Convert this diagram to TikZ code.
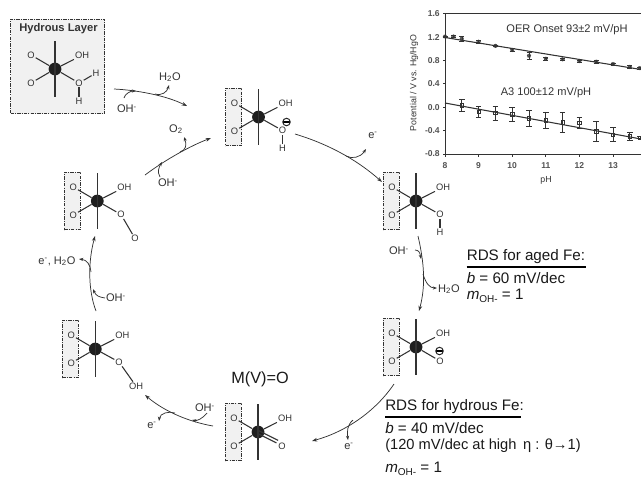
\documentclass[tikz,border=0pt]{standalone}
\usepackage{fontspec}
\setmainfont{Liberation Sans}
\usetikzlibrary{arrows.meta,calc}
\definecolor{ink}{HTML}{333333}
\definecolor{boxgray}{HTML}{F1F1F1}
\tikzset{
  oxbox/.style={draw=ink,fill=boxgray,line width=.55pt,dash pattern=on 2.6pt off .8pt on .8pt off .8pt,inner sep=0pt,minimum width=12pt,minimum height=43pt},
  hybox/.style={draw=ink,fill=boxgray,line width=.6pt,dash pattern=on 2.6pt off .8pt on .8pt off .8pt,inner sep=0pt,minimum width=70.5pt,minimum height=71pt},
  atom/.style={font=\fontsize{7}{8}\selectfont,text=ink,inner sep=.6pt},
  lab/.style={font=\fontsize{8.3}{9}\selectfont,text=ink,inner sep=0pt},
  big/.style={font=\fontsize{11.4}{12}\selectfont,text=black!90,inner sep=0pt,anchor=west},
  ball/.style={circle,fill=black!88,inner sep=0pt,minimum size=9.6pt},
  bond/.style={draw=ink,line width=.8pt},
  conn/.style={draw=ink,line width=.55pt,-{Stealth[length=4pt,width=2.8pt]}},
  branch/.style={draw=ink,line width=.55pt,-{Stealth[length=3.2pt,width=2.4pt]}},
  mcirc/.style={circle,draw=black!85,line width=.75pt,inner sep=0pt,minimum size=5.6pt,path picture={\draw[black,line width=.9pt] (path picture bounding box.west) -- (path picture bounding box.east);}},
  tick/.style={font=\fontsize{6.4}{7}\selectfont\bfseries,text=ink!85,inner sep=0pt},
  chart/.style={font=\fontsize{8.3}{9}\selectfont,text=ink,inner sep=0pt},
}
% core: ball, axial bond, two left O, one right OH
\newcommand{\femol}[3]{%
  \node[oxbox] (#1box) at (#2-25,#3) {};
  \moleculecore{#1}{#2}{#3}}
\newcommand{\moleculecore}[3]{%
  \coordinate (#1up) at (#2,#3-28);
  \coordinate (#1dn) at (#2,#3+27.5);
  \node[atom] (#1o1) at (#2-24,#3-14) {O};
  \node[atom] (#1o2) at (#2-24,#3+14) {O};
  \node[atom] (#1oh) at (#2+27,#3-14) {OH};
  \node[ball] (#1c) at (#2,#3) {};
  \draw[bond] (#1up) -- (#1dn);
  \draw[bond] (#1c) -- (#1o1);
  \draw[bond] (#1c) -- (#1o2);
  \draw[bond] (#1c) -- (#1oh.south west);}
\begin{document}
\begin{tikzpicture}[x=.75pt,y=-.75pt]
\useasboundingbox (0,0) rectangle (641,476);

% hydrous layer
\node[hybox] (hyd) at (57.5,66.5) {};
\node[font=\fontsize{8.4}{9}\selectfont\bfseries,text=ink,inner sep=0pt] (hydt) at (58.5,29) {Hydrous Layer};
\moleculecore{h}{55}{69}
\node[atom] (ho) at (79,83) {O};
\node[atom] (hh1) at (96,73) {H};
\node[atom] (hh2) at (79,101) {H};
\draw[bond] (hc) -- (ho);
\draw[bond] (ho) -- (hh1);
\draw[bond] (ho) -- (hh2);

% top
\femol{a}{258.5}{117}
\node[atom] (ao) at (282.5,130.5) {O};
\node[atom] (ah) at (282.5,148) {H};
\node[mcirc] (am) at (286.5,122) {};
\draw[bond] (ac) -- (ao);
\draw[bond] (ao) -- (ah);

% right upper
\femol{b}{416}{201}
\node[atom] (bo) at (440,214.5) {O};
\node[atom] (bh) at (440,232) {H};
\draw[bond] (bc) -- (bo);
\draw[bond] (bo) -- (bh);

% right lower
\femol{c}{416}{347}
\node[atom] (co) at (440,361) {O};
\node[mcirc] (cm) at (439.5,351) {};
\draw[bond] (cc) -- (co);

% bottom
\femol{d}{258}{432}
\node[atom] (do) at (282,446) {O};
\draw[bond] ($(dc)+(.8,-1.3)$) -- ($(do.north west)+(.8,-1.3)$);
\draw[bond] ($(dc)+(-.8,1.3)$) -- ($(do.north west)+(-.8,1.3)$);
\node[big,anchor=center,font=\fontsize{12.2}{13}\selectfont] (mvo) at (260,379) {M(V)=O};

% left lower
\femol{e}{95.3}{349}
\node[atom] (eo) at (119,362) {O};
\node[atom] (eoh) at (136,386) {OH};
\draw[bond] (ec) -- (eo);
\draw[bond] (eo) -- (eoh);

% left upper
\femol{f}{97.3}{201}
\node[atom] (fo) at (121,214.5) {O};
\node[atom] (fo2) at (135,238.5) {O};
\draw[bond] (fc) -- (fo);
\draw[bond] (fo) -- (fo2);

% cycle labels
\node[lab] (l1) at (127,109) {OH\textsuperscript{-}};
\node[lab] (l2) at (170,77) {H\textsubscript{2}O};
\node[lab] (l3) at (176,129) {O\textsubscript{2}};
\node[lab] (l4) at (168,183) {OH\textsuperscript{-}};
\node[lab] (l5) at (373,135) {e\textsuperscript{-}};
\node[lab] (l6) at (399,251) {OH\textsuperscript{-}};
\node[lab] (l7) at (449,289) {H\textsubscript{2}O};
\node[lab] (l8) at (349,446) {e\textsuperscript{-}};
\node[lab] (l9) at (205,408) {OH\textsuperscript{-}};
\node[lab] (l10) at (152,425) {e\textsuperscript{-}};
\node[lab] (l11) at (116,298) {OH\textsuperscript{-}};
\node[lab] (l12) at (57,261) {e\textsuperscript{-}, H\textsubscript{2}O};

% connector end points
\coordinate (m1a) at (114,89);   \coordinate (m1b) at (187,106);
\coordinate (m1x) at (136,91);   \coordinate (m1y) at (155,94);
\coordinate (m2a) at (145,175);  \coordinate (m2b) at (211,138);
\coordinate (m2x) at (162,162);  \coordinate (m2y) at (180,152);
\coordinate (m3a) at (295,134);  \coordinate (m3b) at (382,182);
\coordinate (m3y) at (346,156);  \coordinate (m3z) at (366,149);
\coordinate (m4a) at (418,236);  \coordinate (m4b) at (419,311);
\coordinate (m4x) at (421,259);  \coordinate (m4y) at (423,274);
\coordinate (m5a) at (394,384);  \coordinate (m5b) at (312,441);
\coordinate (m5y) at (353,420);  \coordinate (m5z) at (348,440);
\coordinate (m6a) at (213,426);  \coordinate (m6b) at (145,395);
\coordinate (m6x) at (192,420);  \coordinate (m6y) at (175,413);
\coordinate (m6z) at (159,421);
\coordinate (m7a) at (96,311);   \coordinate (m7b) at (95,236);
\coordinate (m7x) at (93,289);   \coordinate (m7y) at (91,272);
\coordinate (m7z) at (79,259);
\coordinate (s1) at (124,98);
\coordinate (s2) at (169,85);
\coordinate (s3) at (160,177);
\coordinate (s4) at (184,137);
\coordinate (s5) at (415,250);
\coordinate (s6) at (437,288);
\coordinate (s7) at (207,413);
\coordinate (s8) at (105,298);

% main arrows
\draw[conn] (m1a) .. controls (135,90) and (165,95) .. (m1b);
\draw[conn] (m2a) .. controls (165,160) and (190,146) .. (m2b);
\draw[conn] (m3a) .. controls (325,143) and (355,158) .. (m3b);
\draw[conn] (m4a) .. controls (424,262) and (426,285) .. (m4b);
\draw[conn] (m5a) .. controls (375,412) and (345,432) .. (m5b);
\draw[conn] (m6a) .. controls (190,422) and (165,412) .. (m6b);
\draw[conn] (m7a) .. controls (88,290) and (88,262) .. (m7b);

% side arrows
\draw[branch] (s1) .. controls (125,94) and (130,91) .. (m1x);
\draw[branch] (m1y) .. controls (162,96) and (167,92) .. (s2);
\draw[branch] (s3) .. controls (157,172) and (159,167) .. (m2x);
\draw[branch] (m2y) .. controls (186,150) and (187,145) .. (s4);
\draw[branch] (m3y) .. controls (352,159) and (360,158) .. (m3z);
\draw[branch] (s5) .. controls (419,250) and (420,253) .. (m4x);
\draw[branch] (m4y) .. controls (426,284) and (430,288) .. (s6);
\draw[branch] (m5y) .. controls (347,425) and (347,432) .. (m5z);
\draw[branch] (s7) .. controls (202,419) and (197,421) .. (m6x);
\draw[branch] (m6y) .. controls (169,411) and (160,413) .. (m6z);
\draw[branch] (s8) .. controls (99,297) and (96,296) .. (m7x);
\draw[branch] (m7y) .. controls (90,264) and (87,260) .. (m7z);

% RDS texts
\node[big] (r1) at (466.5,257) {RDS for aged Fe:};
\draw[black,line width=1.1pt] (r1.west |- 0,267) coordinate (r1l) -- (586,267) coordinate (r1r);
\node[big] (r2) at (466.5,278) {\textit{b} = 60 mV/dec};
\node[big] (r3) at (466.5,296) {\textit{m}\raisebox{-.35ex}{\fontsize{7.5}{8}\selectfont OH-} = 1};
\node[big] (q1) at (385,407) {RDS for hydrous Fe:};
\draw[black,line width=1.1pt] (q1.west |- 0,417) coordinate (q1l) -- (521,417) coordinate (q1r);
\node[big] (q2) at (385,428) {\textit{b} = 40 mV/dec};
\node[big,font=\fontsize{11}{12}\selectfont] (q3) at (385,446) {(120 mV/dec at high \,η : θ→1)};
\node[big] (q4) at (385,469) {\textit{m}\raisebox{-.35ex}{\fontsize{7.5}{8}\selectfont OH-} = 1};

% chart
\draw[ink,line width=.6pt] (641,13.7) -- (445,13.7) -- (445,154) -- (641,154);
\foreach \v/\t in {1.6/1.6,1.2/1.2,0.8/0.8,0.4/0.4,0.0/0.0,-0.4/-0.4,-0.8/-0.8}{
  \pgfmathsetmacro{\yy}{154-(\v+0.8)*58.45}
  \draw[ink,line width=.6pt] (445,\yy) -- (442.5,\yy);
  \node[tick,anchor=east] at (440,\yy) {\t};
}
\foreach \p in {8,9,10,11,12,13}{
  \pgfmathsetmacro{\xx}{445+(\p-8)*33.6}
  \draw[ink,line width=.6pt] (\xx,154) -- (\xx,156.5);
  \node[tick] at (\xx,166) {\p};
}
\node[chart,font=\fontsize{6.6}{7}\selectfont] (pha) at (546,180) {pH};
\node[chart,font=\fontsize{6.6}{7}\selectfont,rotate=90] (pot) at (414,83) {Potential / V vs. Hg/HgO};
\node[chart] (oer) at (567,30) {OER Onset 93±2 mV/pH};
\node[chart] (a3) at (546,93) {A3 100±12 mV/pH};
\draw[ink,line width=.8pt] (445,37.5) -- (641,69.5);
\draw[ink,line width=.8pt] (445,103) -- (641,139);
\foreach \p/\v/\e in {8/1.21/.01,8.25/1.21/.02,8.5/1.17/.04,9/1.12/.02,9.5/1.05/.01,10/.98/.02,10.5/.88/.06,11/.83/.03,11.5/.82/.02,12/.79/.02,12.5/.78/.02,13/.74/.02,13.5/.69/.02,13.8/.67/.02}{
  \pgfmathsetmacro{\xx}{445+(\p-8)*33.6}
  \pgfmathsetmacro{\yy}{154-(\v+0.8)*58.45}
  \pgfmathsetmacro{\ee}{\e*58.45}
  \draw[ink,line width=.45pt] (\xx,\yy-\ee) -- (\xx,\yy+\ee) (\xx-2.5,\yy-\ee) -- (\xx+2.5,\yy-\ee) (\xx-2.5,\yy+\ee) -- (\xx+2.5,\yy+\ee);
  \draw[ink,line width=.4pt] (\xx,\yy) circle[radius=1.8] (\xx-1.5,\yy-1.5) -- (\xx+1.5,\yy+1.5) (\xx-1.5,\yy+1.5) -- (\xx+1.5,\yy-1.5);
}
\foreach \p/\v/\e in {8.5/.03/.1,9/-.08/.1,9.5/-.10/.12,10/-.12/.12,10.5/-.19/.13,11/-.22/.14,11.5/-.26/.17,12/-.27/.09,12.5/-.41/.17,13/-.47/.12,13.5/-.50/.07,13.8/-.52/.02}{
  \pgfmathsetmacro{\xx}{445+(\p-8)*33.6}
  \pgfmathsetmacro{\yy}{154-(\v+0.8)*58.45}
  \pgfmathsetmacro{\ee}{\e*58.45}
  \draw[ink,line width=.5pt] (\xx,\yy-\ee) -- (\xx,\yy+\ee) (\xx-2.8,\yy-\ee) -- (\xx+2.8,\yy-\ee) (\xx-2.8,\yy+\ee) -- (\xx+2.8,\yy+\ee);
  \draw[ink,line width=.45pt] (\xx-1.7,\yy-1.7) rectangle (\xx+1.7,\yy+1.7);
}
\end{tikzpicture}
\end{document}
